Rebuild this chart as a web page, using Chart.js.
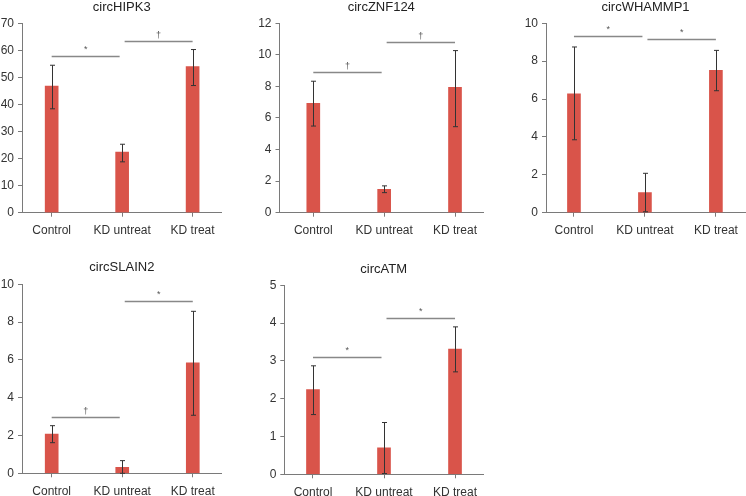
<!DOCTYPE html>
<html>
<head>
<meta charset="utf-8">
<script src="https://cdn.jsdelivr.net/npm/chart.js@4/dist/chart.umd.min.js"></script>
<style>
  html, body { margin: 0; padding: 0; background: #fff; }
  body { width: 746px; height: 496px; position: relative; overflow: hidden; }
  canvas { position: absolute; }
</style>
</head>
<body>
<script>
// categories and per-gene values
const categories = ['Control', 'KD untreat', 'KD treat'];
const genes = ['circHIPK3', 'circZNF124', 'circWHAMMP1', 'circSLAIN2', 'circATM'];
const means = [
  [46.8, 22.4, 54.0],
  [6.93, 1.48, 7.94],
  [6.28, 1.06, 7.52],
  [2.08, 0.32, 5.84],
  [2.24, 0.70, 3.31]
];
const errHigh = [
  [54.5, 25.3, 60.3],
  [8.33, 1.70, 10.27],
  [8.75, 2.08, 8.57],
  [2.52, 0.67, 8.57],
  [2.87, 1.37, 3.90]
];
const errLow = [
  [38.4, 18.8, 47.0],
  [5.49, 1.27, 5.45],
  [3.85, 0.05, 6.44],
  [1.62, 0.00, 3.07],
  [1.58, 0.02, 2.71]
];
const yMax = [70, 12, 10, 10, 5];
const yStep = [10, 2, 2, 2, 1];
// significance marks: [from category, to category, level, symbol]
const marks = [
  [[0, 1, 57.9, '*'], [1, 2, 63.3, '\u2020']],
  [[0, 1, 8.9, '\u2020'], [1, 2, 10.84, '\u2020']],
  [[0, 1, 9.33, '*'], [1, 2, 9.15, '*']],
  [[0, 1, 2.98, '\u2020'], [1, 2, 9.12, '*']],
  [[0, 1, 3.1, '*'], [1, 2, 4.14, '*']]
];

// panel placement (pixels): plot left/right/top/bottom, title centre
const panels = [
  { x0: 22,    x1: 221.5, top: 23.3,  bottom: 212.7, titleY: 7,     xmin: -0.421, xmax: 2.41 },
  { x0: 279.5, x1: 483,   top: 23.3,  bottom: 212.7, titleY: 7.5,   xmin: -0.477, xmax: 2.395 },
  { x0: 546,   x1: 745,   top: 23.3,  bottom: 212.7, titleY: 7,     xmin: -0.394, xmax: 2.41 },
  { x0: 22,    x1: 221.7, top: 284.3, bottom: 473.3, titleY: 267.8, xmin: -0.421, xmax: 2.41 },
  { x0: 284.3, x1: 483,   top: 285.3, bottom: 474.3, titleY: 269,   xmin: -0.404, xmax: 2.394 }
];

const FONT = "'Liberation Sans', Arial, sans-serif";
const BAR = '#d9544a';
const AXIS = '#7a7a7a';

const extras = {
  id: 'extras',
  afterDatasetsDraw(chart) {
    const i = chart.options.plugins.extras.idx;
    const ctx = chart.ctx;
    const xs = chart.scales.x, ys = chart.scales.y;
    ctx.save();
    // error bars
    ctx.strokeStyle = '#333';
    ctx.lineWidth = 1;
    for (let k = 0; k < categories.length; k++) {
      const x = Math.round(xs.getPixelForValue(k)) + 0.5;
      const yh = ys.getPixelForValue(errHigh[i][k]);
      const yl = ys.getPixelForValue(errLow[i][k]);
      ctx.beginPath();
      ctx.moveTo(x, yh); ctx.lineTo(x, yl);
      ctx.moveTo(x - 2.5, yh); ctx.lineTo(x + 2.5, yh);
      ctx.moveTo(x - 2.5, yl); ctx.lineTo(x + 2.5, yl);
      ctx.stroke();
    }
    // significance brackets
    marks[i].forEach(([a, b, lvl, sym]) => {
      const xa = xs.getPixelForValue(a) + (a === 1 ? 2.5 : 0);
      const xb = xs.getPixelForValue(b) - (b === 1 ? 2.5 : 0);
      const y = Math.round(ys.getPixelForValue(lvl)) + 0.5;
      ctx.strokeStyle = '#888';
      ctx.lineWidth = 1.3;
      ctx.beginPath();
      ctx.moveTo(xa, y); ctx.lineTo(xb, y);
      ctx.stroke();
      ctx.fillStyle = '#555';
      ctx.font = '9px ' + FONT;
      ctx.textAlign = 'center';
      ctx.textBaseline = 'alphabetic';
      ctx.fillText(sym, (xa + xb) / 2, sym === '*' ? y - 4.5 : y - 4);
    });
    ctx.restore();
  }
};

panels.forEach((p, i) => {
  const left = Math.floor(p.x0 - 24);
  const top = Math.floor(p.titleY - 9.8);
  const yw = p.x0 - left;
  const xh = 30;
  const width = Math.ceil(p.x1 + 2 - left);
  const height = Math.ceil(p.bottom + xh - top);
  const canvas = document.createElement('canvas');
  canvas.width = width;
  canvas.height = height;
  canvas.style.left = left + 'px';
  canvas.style.top = top + 'px';
  canvas.style.width = width + 'px';
  canvas.style.height = height + 'px';
  document.body.appendChild(canvas);

  const tTop = p.titleY - 7.8 - top;
  new Chart(canvas.getContext('2d'), {
    type: 'bar',
    data: {
      datasets: [{
        data: means[i].map((v, k) => ({ x: k, y: v })),
        backgroundColor: BAR,
        borderWidth: 0,
        barThickness: 13
      }]
    },
    options: {
      responsive: false,
      animation: false,
      devicePixelRatio: 1,
      layout: { padding: { left: 0, top: 0, right: width - (p.x1 - left), bottom: height - (p.bottom - top) - xh } },
      plugins: {
        legend: { display: false },
        tooltip: { enabled: false },
        title: {
          display: true,
          text: genes[i],
          fullSize: false,
          color: '#222',
          font: { family: FONT, size: 13, weight: 'normal', lineHeight: 1.2 },
          padding: { top: tTop, bottom: p.top - top - 15.6 - tTop }
        },
        extras: { idx: i }
      },
      scales: {
        x: {
          type: 'linear',
          min: p.xmin,
          max: p.xmax,
          offset: false,
          afterFit(s) { s.height = xh; },
          border: { color: AXIS, width: 1 },
          grid: { offset: false, drawOnChartArea: false, tickLength: 4, color: AXIS },
          ticks: {
            stepSize: 1,
            includeBounds: false,
            autoSkip: false,
            maxRotation: 0,
            padding: 7,
            color: '#333',
            font: { family: FONT, size: 12 },
            callback: v => categories[v] ?? ''
          }
        },
        y: {
          min: 0,
          max: yMax[i],
          afterFit(s) { s.width = yw; },
          border: { color: AXIS, width: 1 },
          grid: { drawOnChartArea: false, tickLength: 4, color: AXIS },
          ticks: {
            stepSize: yStep[i],
            padding: 4,
            color: '#333',
            font: { family: FONT, size: 12 }
          }
        }
      }
    },
    plugins: [extras]
  });
});
</script>
</body>
</html>
